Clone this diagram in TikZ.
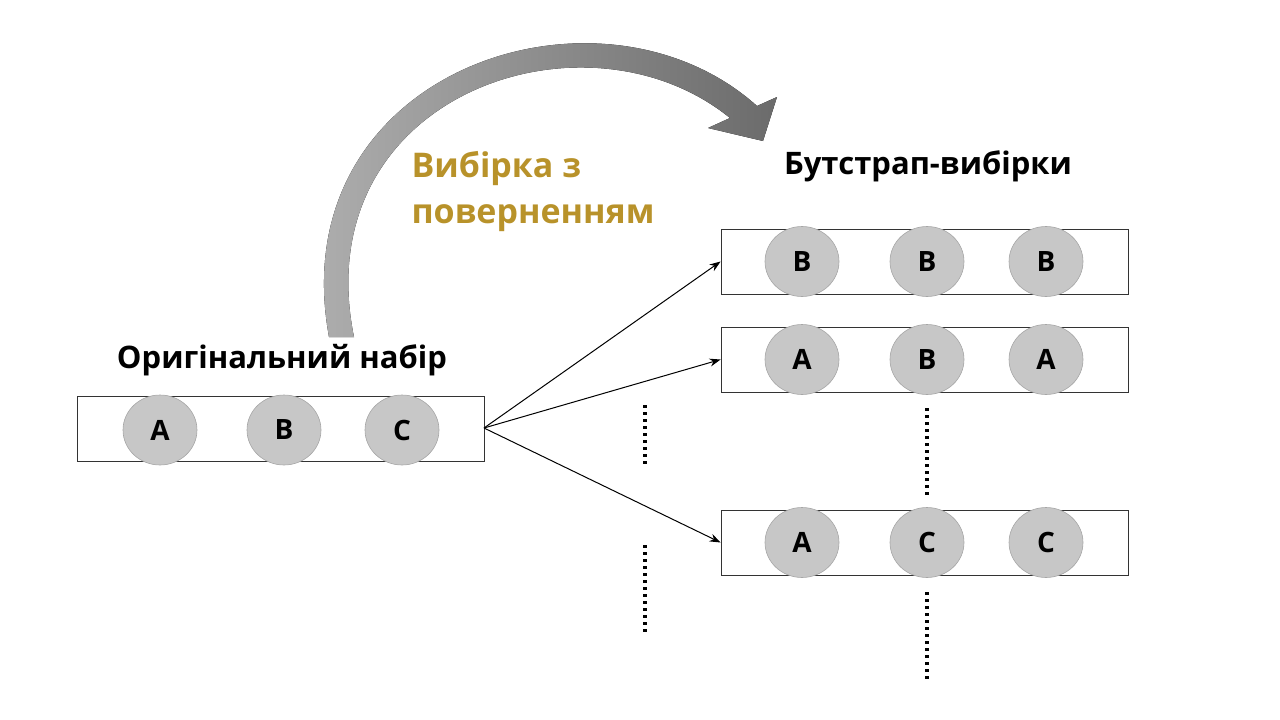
\documentclass[tikz,border=0pt]{standalone}
\usepackage{fontspec}
\setmainfont{Open Sans}
\definecolor{gold}{HTML}{B8922A}
\usetikzlibrary{shapes.geometric,arrows.meta}
\begin{document}
\begin{tikzpicture}[x=1pt,y=-1pt,
  box/.style={draw=black!80,line width=0.8pt},
  ball/.style={ellipse,fill=black!22,draw=black!35,line width=0.6pt,minimum width=74pt,minimum height=70pt,inner sep=0pt,font=\fontsize{28}{30}\selectfont\bfseries},
  lbl/.style={font=\fontsize{31}{36}\selectfont\bfseries},
  conn/.style={-{Stealth[length=11pt,width=8pt]},line width=1pt},
  dots/.style={line width=3.4pt,dash pattern=on 3pt off 4pt}]
\useasboundingbox (0,0) rectangle (1280,720);
% curved arrow
\fill[left color=black!30,right color=black!58]
  (329,337) .. controls (280,70) and (600,-35) .. (757,106)
  -- (777,97) -- (763,141) -- (708,128) -- (730,118)
  .. controls (585,0) and (305,95) .. (354,337) -- cycle;
\node[lbl,font=\fontsize{34}{46}\selectfont\bfseries,text=gold,align=left,anchor=north west] (s) at (408,148) {Вибірка з\\поверненням};
\node[lbl] (ol) at (282,360) {Оригінальний набір};
\node[lbl] (bl) at (928,166) {Бутстрап-вибірки};
\node[box,minimum width=407pt,minimum height=65pt,inner sep=0pt] (o) at (280.5,428.5) {};
\node[ball] at (160,430) {A};
\node[ball] at (284,430) {B};
\node[ball] at (402,430) {C};
\foreach \n/\y/\a/\b/\c in {r1/261.5/B/B/B,r2/359.5/A/B/A,r3/542.5/A/C/C}{
  \node[box,minimum width=407pt,minimum height=65pt,inner sep=0pt] (\n) at (924.5,\y) {};
  \node[ball] at (802,\y) {\a};
  \node[ball] at (927,\y) {\b};
  \node[ball] at (1046,\y) {\c};
}
\coordinate (src) at (484,428);
\draw[conn] (src) -- (r1.west);
\draw[conn] (src) -- (r2.west);
\draw[conn] (src) -- (r3.west);
\coordinate (d1a) at (645,405); \coordinate (d1b) at (645,464);
\coordinate (d2a) at (645,545); \coordinate (d2b) at (645,634);
\coordinate (d3a) at (927,408); \coordinate (d3b) at (927,498);
\coordinate (d4a) at (927,592); \coordinate (d4b) at (927,682);
\draw[dots] (d1a) -- (d1b);
\draw[dots] (d2a) -- (d2b);
\draw[dots] (d3a) -- (d3b);
\draw[dots] (d4a) -- (d4b);
\end{tikzpicture}
\end{document}
